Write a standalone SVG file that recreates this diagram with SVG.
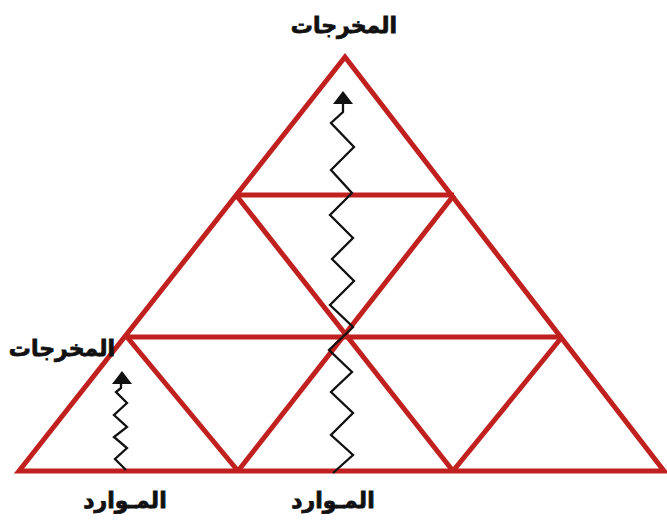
<svg xmlns="http://www.w3.org/2000/svg" width="667" height="525" viewBox="0 0 667 525">
<defs>
<style>
.grid{fill:none;stroke:#c0211f;stroke-width:5;stroke-linejoin:miter;stroke-linecap:butt}
.zig{fill:none;stroke:#111;stroke-width:2.3;stroke-linejoin:miter}
.head{fill:#111}
.lbl{font-family:"DejaVu Sans",sans-serif;font-weight:bold;font-size:22px;fill:#111;stroke:#111;stroke-width:0.8;text-anchor:middle}
</style>
</defs>
<rect width="667" height="525" fill="#fff"/>
<g id="connectors">
<g id="grid">
<polygon class="grid" points="345,57 19,471 664,471"/>
<line class="grid" x1="236" y1="195" x2="454" y2="195"/>
<line class="grid" x1="127" y1="337" x2="562" y2="337"/>
<line class="grid" x1="236" y1="195" x2="453" y2="471"/>
<line class="grid" x1="454" y1="195" x2="238" y2="471"/>
<line class="grid" x1="127" y1="337" x2="238" y2="471"/>
<line class="grid" x1="562" y1="337" x2="453" y2="471"/>
</g>
<g id="zigzag-main">
<polyline class="zig" points="343,101 343,112 331,123 354,147 331,170 352,193 330,215 353,238 332,259 354,281 330,305 353,327 329,350 352,372 331,392 353,413 331,435 353,455 333,473"/>
<polygon class="head" points="343,91 333,104 353,104"/>
</g>
<g id="zigzag-small">
<polyline class="zig" points="121,382 121,388 116,392 127,403 114,415 127,427 114,437 127,448 115,459 126,470"/>
<polygon class="head" points="122,371 112,384 132,384"/>
</g>
</g>
<g id="label-top"><text class="lbl" x="344" y="33">المخرجات</text></g>
<g id="label-left"><text class="lbl" x="62" y="356">المخرجات</text></g>
<g id="label-bottom-left"><text class="lbl" x="125" y="508">المـوارد</text></g>
<g id="label-bottom-mid"><text class="lbl" x="333" y="508">المـوارد</text></g>
</svg>
